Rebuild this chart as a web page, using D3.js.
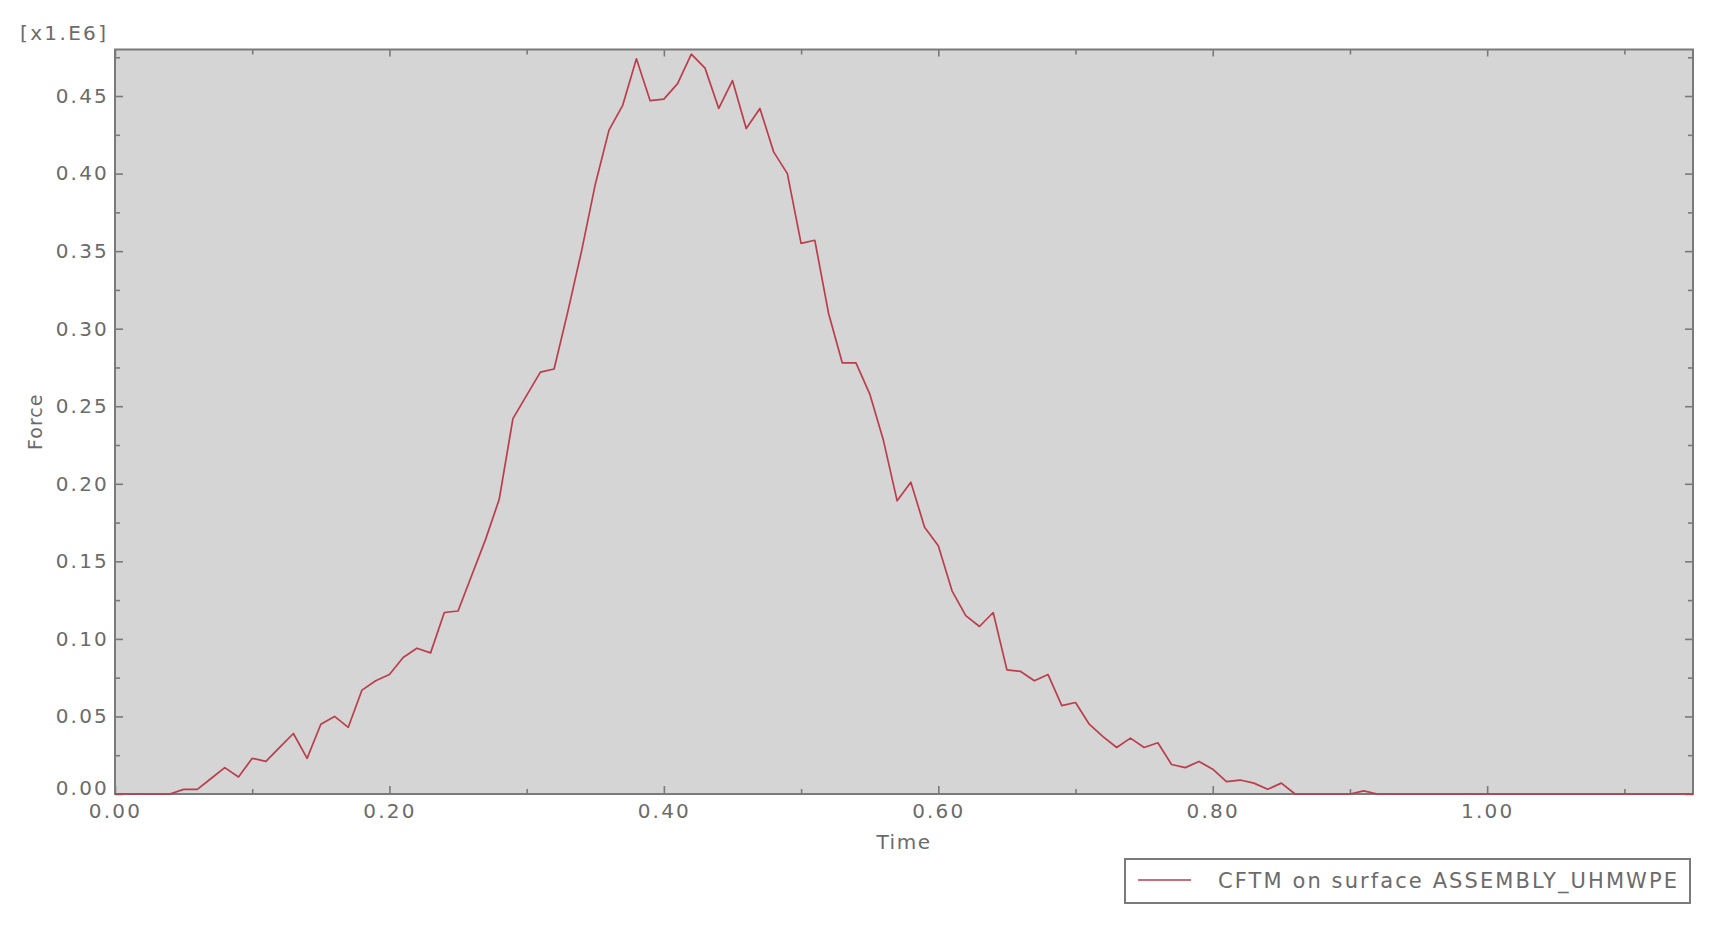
<!DOCTYPE html>
<html><head><meta charset="utf-8">
<script src="https://cdn.jsdelivr.net/npm/d3@7"></script>
<style>body{margin:0;background:#fff;overflow:hidden}</style>
</head><body><svg id="c" width="1721" height="934"></svg>
<script>
// ---- data ----
const times = [
0.00,0.01,0.02,0.03,0.04,0.05,0.06,0.07,0.08,0.09,
0.10,0.11,0.12,0.13,0.14,0.15,0.16,0.17,0.18,0.19,
0.20,0.21,0.22,0.23,0.24,0.25,0.26,0.27,0.28,0.29,
0.30,0.31,0.32,0.33,0.34,0.35,0.36,0.37,0.38,0.39,
0.40,0.41,0.42,0.43,0.44,0.45,0.46,0.47,0.48,0.49,
0.50,0.51,0.52,0.53,0.54,0.55,0.56,0.57,0.58,0.59,
0.60,0.61,0.62,0.63,0.64,0.65,0.66,0.67,0.68,0.69,
0.70,0.71,0.72,0.73,0.74,0.75,0.76,0.77,0.78,0.79,
0.80,0.81,0.82,0.83,0.84,0.85,0.86,0.87,0.88,0.89,
0.90,0.91,0.92,0.93,0.94,1.15];
const force = [ // x1.E6
0.000,0.000,0.000,0.000,0.000,0.003,0.003,0.010,0.017,0.011,
0.023,0.021,0.030,0.039,0.023,0.045,0.050,0.043,0.067,0.073,
0.077,0.088,0.094,0.091,0.117,0.118,0.141,0.164,0.190,0.242,
0.257,0.272,0.274,0.311,0.350,0.393,0.428,0.444,0.474,0.447,
0.448,0.458,0.477,0.468,0.442,0.460,0.429,0.442,0.414,0.400,
0.355,0.357,0.310,0.278,0.278,0.258,0.228,0.189,0.201,0.172,
0.160,0.131,0.115,0.108,0.117,0.080,0.079,0.073,0.077,0.057,
0.059,0.045,0.037,0.030,0.036,0.030,0.033,0.019,0.017,0.021,
0.016,0.008,0.009,0.007,0.003,0.007,0.000,0.000,0.000,0.000,
0.000,0.002,0.000,0.000,0.000,0.000];
const xMajorTicks = [0.0,0.2,0.4,0.6,0.8,1.0];
const xMinorTicks = [0.1,0.3,0.5,0.7,0.9,1.1];
const yMajorTicks = [0.00,0.05,0.10,0.15,0.20,0.25,0.30,0.35,0.40,0.45];
const yMinorTicks = [0.025,0.075,0.125,0.175,0.225,0.275,0.325,0.375,0.425,0.475];
const xDomain = [0, 1.15];
const yDomain = [0, 0.48];
const xLabel = "Time";
const yLabel = "Force";
const scaleLabel = "[x1.E6]";
const seriesName = "CFTM on surface ASSEMBLY_UHMWPE";

// ---- layout ----
const L = 115, R = 1693, T = 49.5, B = 794;
const textColor = "#6b6b6b", frameColor = "#7a7a7a", lineColor = "#bb3e4c";
const font = "'DejaVu Sans', Verdana, sans-serif";

const svg = d3.select("#c");
const x = d3.scaleLinear().domain(xDomain).range([L, R]);
const y = d3.scaleLinear().domain(yDomain).range([B, T]);

svg.append("rect").attr("x", L).attr("y", T).attr("width", R - L).attr("height", B - T)
  .attr("fill", "#d5d5d5");

function styleAxis(g, labels) {
  g.select(".domain").remove();
  g.selectAll(".tick line").attr("stroke", frameColor).attr("stroke-width", 1.6);
  g.selectAll("text").attr("fill", textColor).attr("font-family", font)
    .attr("font-size", 20).attr("letter-spacing", 2.2);
  if (!labels) g.selectAll("text").remove();
}
const fmt = d3.format(".2f");

// bottom
svg.append("g").attr("transform", `translate(0,${B})`)
  .call(d3.axisBottom(x).tickValues(xMajorTicks).tickSize(-8).tickPadding(10).tickFormat(fmt))
  .call(g => styleAxis(g, true));
svg.append("g").attr("transform", `translate(0,${B})`)
  .call(d3.axisBottom(x).tickValues(xMinorTicks).tickSize(-5)).call(g => styleAxis(g, false));
// top
svg.append("g").attr("transform", `translate(0,${T})`)
  .call(d3.axisTop(x).tickValues(xMajorTicks).tickSize(-7)).call(g => styleAxis(g, false));
svg.append("g").attr("transform", `translate(0,${T})`)
  .call(d3.axisTop(x).tickValues(xMinorTicks).tickSize(-5)).call(g => styleAxis(g, false));
// left
svg.append("g").attr("transform", `translate(${L},0)`)
  .call(d3.axisLeft(y).tickValues(yMajorTicks).tickSize(-8).tickPadding(6).tickFormat(fmt))
  .call(g => styleAxis(g, true))
  .call(g => g.selectAll(".tick text").filter(d => d === 0).attr("y", -6));
svg.append("g").attr("transform", `translate(${L},0)`)
  .call(d3.axisLeft(y).tickValues(yMinorTicks).tickSize(-5)).call(g => styleAxis(g, false));
// right
svg.append("g").attr("transform", `translate(${R},0)`)
  .call(d3.axisRight(y).tickValues(yMajorTicks).tickSize(-8)).call(g => styleAxis(g, false));
svg.append("g").attr("transform", `translate(${R},0)`)
  .call(d3.axisRight(y).tickValues(yMinorTicks).tickSize(-5)).call(g => styleAxis(g, false));

// frame
svg.append("rect").attr("x", L).attr("y", T).attr("width", R - L).attr("height", B - T)
  .attr("fill", "none").attr("stroke", frameColor).attr("stroke-width", 2);

// curve
const data = times.map((t, i) => [t, force[i]]);
svg.append("path").datum(data)
  .attr("fill", "none").attr("stroke", lineColor).attr("stroke-width", 1.7)
  .attr("stroke-linejoin", "round")
  .attr("d", d3.line().x(d => x(d[0])).y(d => y(d[1])));

// labels
svg.append("text").attr("x", 20).attr("y", 40).text(scaleLabel)
  .attr("fill", textColor).attr("font-family", font).attr("font-size", 20)
  .attr("textLength", 86).attr("lengthAdjust", "spacing");
svg.append("text").attr("x", (L + R) / 2).attr("y", 849).attr("text-anchor", "middle").text(xLabel)
  .attr("fill", textColor).attr("font-family", font).attr("font-size", 20).attr("letter-spacing", 1.5);
svg.append("text").attr("transform", `translate(42,${(T + B) / 2}) rotate(-90)`)
  .attr("text-anchor", "middle").text(yLabel)
  .attr("fill", textColor).attr("font-family", font).attr("font-size", 19).attr("letter-spacing", 1);

// legend
const lg = svg.append("g");
lg.append("rect").attr("x", 1125).attr("y", 859).attr("width", 565).attr("height", 44)
  .attr("fill", "#fff").attr("stroke", frameColor).attr("stroke-width", 2);
lg.append("line").attr("x1", 1138).attr("x2", 1191).attr("y1", 880).attr("y2", 880)
  .attr("stroke", lineColor).attr("stroke-width", 1.7);
lg.append("text").attr("x", 1218).attr("y", 888).text(seriesName)
  .attr("fill", textColor).attr("font-family", font).attr("font-size", 21)
  .attr("textLength", 459).attr("lengthAdjust", "spacing");
</script></body></html>
